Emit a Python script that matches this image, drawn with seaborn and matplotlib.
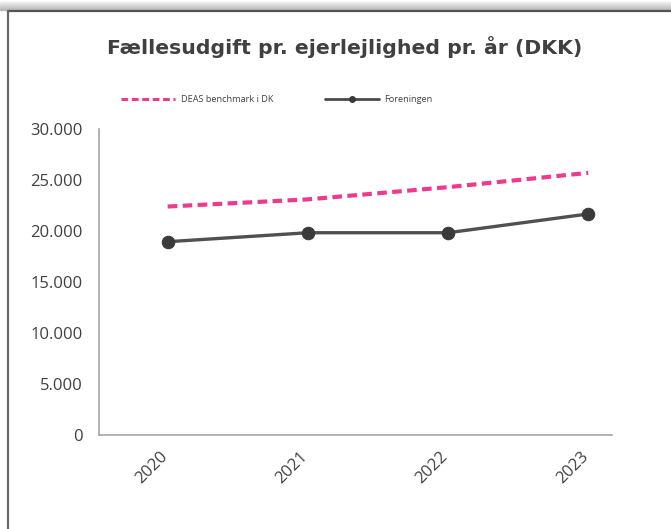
import matplotlib
matplotlib.use("Agg")
import matplotlib.pyplot as plt
import matplotlib.transforms as mtransforms
import seaborn as sns
import pandas as pd
import numpy as np
from matplotlib.lines import Line2D
from matplotlib.ticker import FuncFormatter

years = ["2020", "2021", "2022", "2023"]
deas = [22400, 23100, 24300, 25700]
foreningen = [18950, 19830, 19830, 21670]
y_ticks = [0, 5000, 10000, 15000, 20000, 25000, 30000]

title = "Fællesudgift pr. ejerlejlighed pr. år (DKK)"
label_deas = "DEAS benchmark i DK"
label_for = "Foreningen"

sns.set_theme(style="white")
plt.rcParams['font.family'] = ['Open Sans', 'DejaVu Sans']

df = pd.DataFrame({"x": np.arange(len(years)), "deas": deas, "for": foreningen})

W, H = 671, 529
fig = plt.figure(figsize=(W / 100, H / 100), dpi=100)
fig.patch.set_facecolor("white")

# frame with shadow
for i in range(10):
    yy = 1 - (1 + i) / H
    fig.add_artist(Line2D([0, 1], [yy, yy], transform=fig.transFigure,
                          color="#808080", alpha=0.04 + 0.05 * i, lw=1.0))
fig.add_artist(Line2D([8 / W, 1], [1 - 11 / H, 1 - 11 / H], transform=fig.transFigure,
                      color="#555555", lw=1.6))
fig.add_artist(Line2D([8 / W, 8 / W], [0, 1 - 11 / H], transform=fig.transFigure,
                      color="#666666", lw=1.6))

left, right, bottom, top = 99, 612, 435, 129
ax = fig.add_axes([left / W, 1 - bottom / H, (right - left) / W, (bottom - top) / H])

sns.lineplot(data=df, x="x", y="deas", ax=ax, color="#ee3a8c", lw=3.0,
             linestyle=(0, (2.3, 1.3)), estimator=None)
sns.lineplot(data=df, x="x", y="for", ax=ax, color="#505050", lw=2.4,
             marker="o", markersize=9, markerfacecolor="#3a3a3a",
             markeredgecolor="#3a3a3a", estimator=None)

ax.set_xlim(-0.49, 3.17)
ax.set_ylim(0, 30000)
ax.set_yticks(y_ticks)
ax.yaxis.set_major_formatter(FuncFormatter(lambda v, p: f"{int(v):,}".replace(",", ".")))
ax.set_xticks(df["x"])
ax.set_xticklabels(years, rotation=45, ha="right", rotation_mode="anchor")
ax.set_xlabel("")
ax.set_ylabel("")
for s in ["top", "right"]:
    ax.spines[s].set_visible(False)
for s in ["left", "bottom"]:
    ax.spines[s].set_color("#a6a6a6")
    ax.spines[s].set_linewidth(1.2)
ax.tick_params(axis="both", length=0, labelsize=12, colors="#404040")
ax.tick_params(axis="y", pad=12)
ax.tick_params(axis="x", pad=10)
off = mtransforms.ScaledTranslation(-8 / 100, 0, fig.dpi_scale_trans)
for lab in ax.get_xticklabels():
    lab.set_transform(lab.get_transform() + off)
ax.set_facecolor("white")

fig.text(345 / W, 1 - 47 / H, title, ha="center", va="center", fontsize=14.7,
         fontweight="bold", color="#404040", family=["DejaVu Sans"])

# legend
handles = [Line2D([], [], color="#ee3a8c", lw=2.2, linestyle=(0, (2.2, 1.2))),
           Line2D([], [], color="#4a4a4a", lw=2.0, marker="o", markersize=4,
                  markerfacecolor="#3a3a3a", markeredgecolor="#3a3a3a")]
fig.legend(handles, [label_deas, label_for], loc="center", bbox_to_anchor=(277 / W, 1 - 100 / H),
           ncol=2, frameon=False, handlelength=5.9, columnspacing=5.6,
           handletextpad=0.6, labelcolor="#404040", prop={"family": "Open Sans", "size": 6.6})

fig.savefig("out.png", dpi=100)
